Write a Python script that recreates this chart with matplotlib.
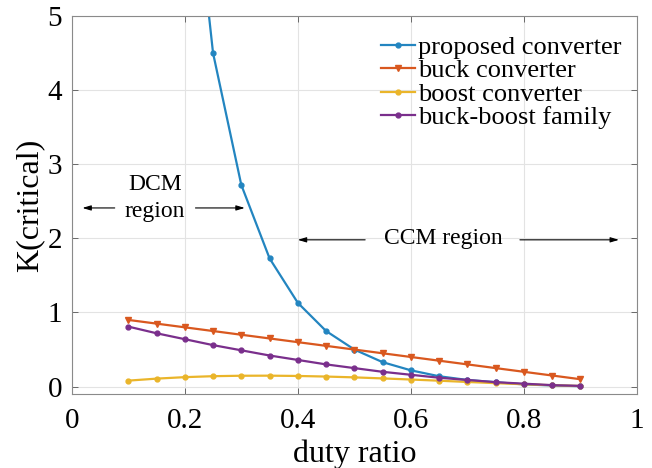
"""
Critical inductance factor K(critical) vs. duty ratio for several converter topologies.
"""
import matplotlib.pyplot as plt

plt.rcParams["font.family"] = ["Liberation Serif", "DejaVu Serif"]
plt.rcParams["mathtext.fontset"] = "stix"

# --------------------------------------------------------------------------- #
# data
# --------------------------------------------------------------------------- #
duty = [0.10, 0.15, 0.20, 0.25, 0.30, 0.35, 0.40, 0.45, 0.50,
        0.55, 0.60, 0.65, 0.70, 0.75, 0.80, 0.85, 0.90]

k_proposed = [40.5, 16.06, 8.0, 4.5, 2.72, 1.73, 1.13, 0.75, 0.50,
              0.33, 0.22, 0.14, 0.09, 0.06, 0.03, 0.016, 0.006]
k_buck = [0.90, 0.85, 0.80, 0.75, 0.70, 0.65, 0.60, 0.55, 0.50,
          0.45, 0.40, 0.35, 0.30, 0.25, 0.20, 0.15, 0.10]
k_boost = [0.081, 0.108, 0.128, 0.141, 0.147, 0.148, 0.144, 0.136, 0.125,
           0.111, 0.096, 0.080, 0.063, 0.047, 0.032, 0.019, 0.009]
k_buckboost = [0.81, 0.72, 0.64, 0.56, 0.49, 0.42, 0.36, 0.30, 0.25,
               0.20, 0.16, 0.12, 0.09, 0.06, 0.04, 0.02, 0.01]

labels = ["proposed converter", "buck converter", "boost converter", "buck-boost family"]

# --------------------------------------------------------------------------- #
# plot
# --------------------------------------------------------------------------- #
fig = plt.figure(figsize=(6.52, 4.68), dpi=100)
ax = fig.add_axes([0.110, 0.158, 0.867, 0.808])

ax.plot(duty, k_proposed, color="#2385c0", lw=1.6, marker="o", ms=3.5, label=labels[0])
ax.plot(duty, k_buck, color="#d9581f", lw=1.6, marker="v", ms=4.5, label=labels[1])
ax.plot(duty, k_boost, color="#eab52a", lw=1.6, marker="o", ms=3.5, label=labels[2])
ax.plot(duty, k_buckboost, color="#7a2f8c", lw=1.6, marker="o", ms=3.5, label=labels[3])

ax.set_xlim(0, 1)
ax.set_ylim(-0.1, 5)
ax.set_xticks([0, 0.2, 0.4, 0.6, 0.8, 1])
ax.set_xticklabels(["0", "0.2", "0.4", "0.6", "0.8", "1"])
ax.set_yticks([0, 1, 2, 3, 4, 5])
ax.tick_params(direction="in", top=True, right=True, labelsize=21,
               length=4, width=0.6, color="#555555")
ax.tick_params(axis="x", pad=10)
ax.tick_params(axis="y", pad=7)
ax.grid(True, color="#e3e3e3", lw=0.8)
for s in ax.spines.values():
    s.set_color("#8a8a8a")
    s.set_linewidth(0.8)

ax.set_xlabel("duty ratio", fontsize=23, labelpad=4)
ax.set_ylabel("K(critical)", fontsize=23, labelpad=2)

ax.legend(loc="upper right", frameon=False, fontsize=19, handlelength=1.3,
          handletextpad=0.1, labelspacing=0.0, borderaxespad=0.2,
          bbox_to_anchor=(1.0, 0.99))

# operating region markers
arrow = dict(arrowstyle="-|>,head_length=0.5,head_width=0.15", color="black", lw=0.8)
ax.text(0.147, 2.72, "DCM", fontsize=17, ha="center", va="center")
ax.text(0.147, 2.36, "region", fontsize=17, ha="center", va="center")
ax.annotate("", xy=(0.014, 2.41), xytext=(0.081, 2.41), arrowprops=arrow)
ax.annotate("", xy=(0.311, 2.41), xytext=(0.214, 2.41), arrowprops=arrow)

ax.text(0.657, 2.0, "CCM region", fontsize=17, ha="center", va="center")
ax.annotate("", xy=(0.395, 1.98), xytext=(0.524, 1.98), arrowprops=arrow)
ax.annotate("", xy=(0.973, 1.98), xytext=(0.788, 1.98), arrowprops=arrow)

fig.savefig("out.png", dpi=100)
